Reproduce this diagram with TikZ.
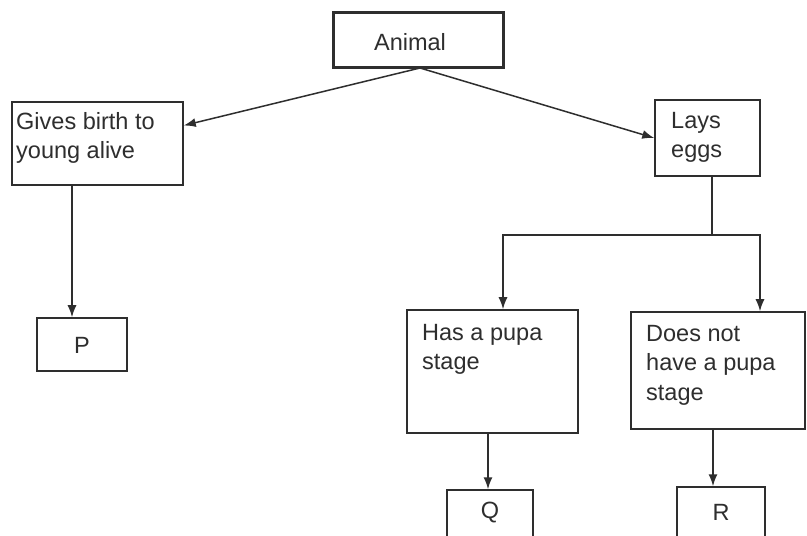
\documentclass[tikz,border=0pt]{standalone}
\usepackage{fontspec}
\setmainfont{Liberation Sans}
\usetikzlibrary{arrows.meta,calc}
\definecolor{ink}{HTML}{2E2E2E}
\tikzset{
  box/.style={draw=ink, line width=1.5bp, rectangle, inner sep=0pt},
  thickbox/.style={box, line width=3bp},
  txt/.style={text=ink, font=\fontsize{23.5bp}{29.5bp}\selectfont, align=left, inner sep=0pt},
  arr/.style={draw=ink, line width=1.5bp, -{Latex[length=12bp,width=9bp]}},
  conn/.style={draw=ink, line width=1.5bp}
}
\begin{document}
\begin{tikzpicture}[x=1bp,y=-1bp]
\clip (0,0) rectangle (807,536);
\fill[white] (0,0) rectangle (807,536);
% boxes
\node[thickbox, minimum width=170bp, minimum height=55bp] (animal) at (418,40.5) {};
\node[txt] (animalt) at (410,42) {Animal};
\node[box, minimum width=171bp, minimum height=83bp] (gives) at (97.5,143.5) {};
\node[txt, anchor=north west] (givest) at (16,112) {Gives birth to\\young alive};
\node[box, minimum width=105bp, minimum height=76bp] (lays) at (707.5,138) {};
\node[txt, anchor=north west] (layst) at (671,112) {Lays\\eggs};
\node[box, minimum width=90bp, minimum height=53bp] (p) at (82,344.5) {};
\node[txt] (pt) at (82,345) {P};
\node[box, minimum width=171bp, minimum height=123bp] (has) at (492.5,371.5) {};
\node[txt, anchor=north west] (hast) at (422,324) {Has a pupa\\stage};
\node[box, minimum width=174bp, minimum height=117bp] (does) at (718,370.5) {};
\node[txt, anchor=north west] (doest) at (646,325) {Does not\\have a pupa\\stage};
\node[box, minimum width=86bp, minimum height=70bp] (q) at (490,525) {};
\node[txt] (qt) at (490,513) {Q};
\node[box, minimum width=88bp, minimum height=73bp] (r) at (721,523.5) {};
\node[txt] (rt) at (721,512) {R};
% connectors
\coordinate (top) at (420,68);
\draw[arr] (top) -- ([yshift=18bp]gives.east);
\draw[arr] (top) -- (lays.west);
\coordinate (gp) at (72,0);
\draw[arr] (gives.south -| gp) -- (p.north -| gp);
\coordinate (split) at (712,235);
\coordinate (hl) at (503,235);
\coordinate (hr) at (760,235);
\draw[conn] (lays.south -| split) -- (split);
\draw[arr] (split) -- (hl) -- (hl |- has.north);
\draw[arr] (split) -- (hr) -- (hr |- does.north);
\coordinate (qx) at (488,0);
\draw[arr] (has.south -| qx) -- (q.north -| qx);
\coordinate (rx) at (713,0);
\draw[arr] (does.south -| rx) -- (r.north -| rx);
\end{tikzpicture}
\end{document}
